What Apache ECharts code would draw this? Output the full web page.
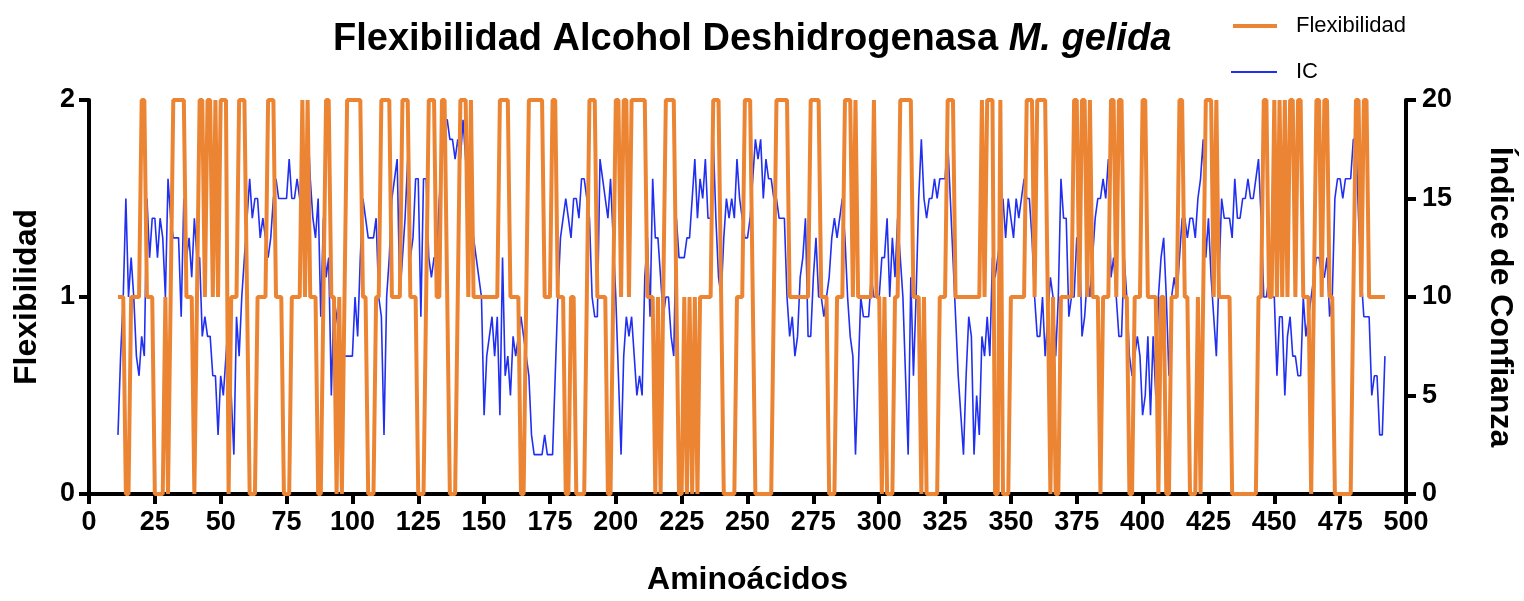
<!DOCTYPE html>
<html>
<head>
<meta charset="utf-8">
<script src="https://cdn.jsdelivr.net/npm/echarts@6/dist/echarts.min.js"></script>
<style>
  html, body { margin: 0; padding: 0; background: #fff; }
  #chart { width: 1524px; height: 601px; }
</style>
</head>
<body>
<div id="chart"></div>
<script>
// first residue plotted on the x axis
const primerAminoacido = 11;

// flexibility per residue (0, 1, 2) - left axis
const flexibilidad = [
  1,1,1,0,0,1,1,1,1,2,
  2,1,1,1,0,0,0,0,1,0,
  1,2,2,2,2,2,1,1,1,0,
  1,2,2,1,2,2,1,2,1,2,
  2,2,0,1,1,1,2,2,2,1,
  0,0,0,1,1,1,1,2,2,2,
  1,1,1,0,0,0,1,1,1,1,
  2,1,2,1,1,1,0,0,1,2,
  2,1,1,0,1,0,1,2,2,2,
  2,2,2,1,1,0,0,0,1,1,
  2,2,2,2,1,1,1,1,2,2,
  2,1,1,1,0,0,0,1,2,2,
  2,1,1,2,2,1,0,0,0,1,
  2,2,2,1,2,1,1,1,1,1,
  1,1,1,1,1,2,2,2,2,1,
  1,1,1,0,0,1,2,2,2,2,
  2,2,1,1,1,2,2,1,1,1,
  0,0,1,1,0,0,0,0,1,2,
  2,2,1,1,1,1,0,0,1,2,
  2,1,2,2,1,2,2,2,2,2,
  2,1,1,1,0,1,0,1,2,2,
  2,2,1,0,0,1,0,1,0,1,
  0,1,1,1,1,1,2,2,2,1,
  0,0,0,0,0,1,1,1,2,2,
  2,1,0,0,0,0,0,0,0,1,
  2,2,2,2,2,1,1,1,1,1,
  1,1,1,2,2,2,2,1,1,1,
  0,0,0,1,1,1,2,2,2,1,
  2,1,1,1,1,1,1,2,1,1,
  0,1,0,0,0,1,1,2,2,2,
  2,2,1,1,1,0,1,0,0,0,
  0,0,1,1,1,2,2,2,1,1,
  1,1,1,1,1,1,1,1,2,1,
  2,2,2,0,0,2,0,0,0,1,
  1,1,1,1,1,2,2,2,1,2,
  2,2,2,1,0,1,0,0,1,1,
  1,1,1,2,2,1,2,2,1,2,
  1,1,1,0,1,1,1,2,2,1,
  2,2,1,1,0,0,1,1,1,2,
  2,1,1,1,1,0,1,1,0,0,
  1,1,1,2,2,1,1,0,0,0,
  1,0,1,2,2,2,1,2,1,1,
  1,1,1,0,0,0,0,0,0,0,
  0,0,0,1,1,2,2,1,1,2,
  1,2,1,2,1,2,2,1,2,2,
  1,1,1,0,1,2,2,1,2,2,
  1,1,0,0,0,0,0,0,0,1,
  2,2,1,2,2,1,1,1,1,1,1,1
];

// confidence index per residue (0-20) - right axis
const ic = [
  3,7,10,15,10,12,10,7,6,8,
  7,15,12,14,14,12,14,13,10,16,
  14,13,13,13,9,15,12,13,11,14,
  12,12,8,9,8,8,6,6,3,6,
  5,7,9,5,2,9,7,10,12,14,
  16,14,15,15,13,14,13,12,13,15,
  16,15,15,15,15,17,15,15,16,15,
  13,14,19,16,14,13,15,9,14,11,
  12,5,10,9,8,7,7,7,7,7,
  10,8,12,15,14,13,13,13,14,10,
  9,3,10,12,15,16,17,10,12,14,
  17,12,13,16,16,9,16,16,12,11,
  12,12,15,17,19,19,18,18,17,18,
  17,19,17,15,14,13,12,11,10,4,
  7,8,9,7,9,4,12,6,7,5,
  8,7,8,9,8,7,6,3,2,2,
  2,2,3,2,2,2,6,10,13,14,
  15,14,13,15,15,14,16,16,15,14,
  10,9,9,17,16,15,14,16,13,10,
  6,2,7,9,8,9,7,5,6,5,
  11,13,9,16,13,13,11,9,10,10,
  8,7,14,12,12,12,13,13,15,17,
  14,16,15,17,14,14,18,14,11,10,
  13,15,14,15,14,17,15,14,13,13,
  14,16,18,17,18,15,17,16,16,15,
  15,14,14,14,10,8,9,7,8,11,
  12,14,8,8,11,13,10,10,9,10,
  11,13,14,13,14,15,13,10,8,7,
  2,6,10,9,9,9,11,10,10,10,
  12,12,14,10,13,11,14,12,10,6,
  2,11,6,10,15,18,15,14,15,15,
  16,15,16,16,16,18,15,12,9,6,
  4,2,6,9,8,2,5,3,8,7,
  9,7,12,11,12,13,15,13,15,14,
  13,15,14,15,16,15,15,13,10,8,
  8,10,7,9,11,10,7,10,16,14,
  14,9,10,10,13,13,8,9,11,10,
  12,14,15,15,16,15,17,11,12,10,
  8,8,12,10,7,6,7,8,7,4,
  5,8,4,8,5,10,12,13,10,6,
  10,11,10,12,14,14,13,14,14,13,
  15,16,18,12,14,11,9,7,11,15,
  14,14,14,13,16,14,14,15,15,16,
  15,15,16,17,14,10,10,11,10,10,
  6,9,9,5,8,9,7,7,6,6,
  10,8,9,10,11,12,12,11,11,12,
  9,10,15,16,16,15,16,16,16,18,
  18,14,11,9,9,9,5,6,6,3,3,7
];

const colorFlex = "#ec8533";
const colorIC = "#2130f0";
const fuente = "Liberation Sans, Arial, Helvetica, sans-serif";

let chart = echarts.init(document.getElementById("chart"));

const ejeNegro = { show: true, lineStyle: { color: "#000", width: 4 } };
const tickNegro = { show: true, length: 10, lineStyle: { color: "#000", width: 4 } };
const etiqueta = { color: "#000", fontSize: 27, fontWeight: "bold", fontFamily: fuente };

chart.setOption({
  animation: false,
  title: {
    text: "{a|Flexibilidad Alcohol Deshidrogenasa }{b|M. gelida}",
    left: 328,
    top: 16,
    textStyle: {
      rich: {
        a: { fontSize: 38, fontWeight: "bold", fontFamily: fuente, color: "#000" },
        b: { fontSize: 38, fontWeight: "bold", fontStyle: "italic", fontFamily: fuente, color: "#000" }
      }
    }
  },
  legend: [
    {
      data: ["Flexibilidad"],
      left: 1228,
      top: 10,
      icon: "rect",
      itemWidth: 44,
      itemHeight: 4,
      textStyle: { fontSize: 22, color: "#000", fontFamily: fuente, padding: [0, 0, 0, 14] }
    },
    {
      data: ["IC"],
      left: 1226,
      top: 56,
      icon: "rect",
      itemWidth: 46,
      itemHeight: 2,
      textStyle: { fontSize: 22, color: "#000", fontFamily: fuente, padding: [0, 0, 0, 14] }
    }
  ],
  grid: { left: 89, right: 116, top: 100, bottom: 98 },
  xAxis: {
    type: "value",
    min: 0,
    max: 500,
    interval: 25,
    name: "Aminoácidos",
    nameLocation: "middle",
    nameGap: 70,
    nameTextStyle: { fontSize: 32, fontWeight: "bold", color: "#000", fontFamily: fuente },
    axisLine: ejeNegro,
    axisTick: tickNegro,
    axisLabel: Object.assign({ margin: 15 }, etiqueta),
    splitLine: { show: false }
  },
  yAxis: [
    {
      type: "value",
      min: 0,
      max: 2,
      interval: 1,
      position: "left",
      name: "Flexibilidad",
      nameLocation: "middle",
      nameGap: 46,
      nameTextStyle: { fontSize: 32, fontWeight: "bold", color: "#000", fontFamily: fuente },
      axisLine: ejeNegro,
      axisTick: tickNegro,
      axisLabel: Object.assign({ margin: 14 }, etiqueta),
      splitLine: { show: false }
    },
    {
      type: "value",
      min: 0,
      max: 20,
      interval: 5,
      position: "right",
      name: "Índice de Confianza",
      nameLocation: "middle",
      nameRotate: -90,
      nameGap: 78,
      nameTextStyle: { fontSize: 32, fontWeight: "bold", color: "#000", fontFamily: fuente },
      axisLine: ejeNegro,
      axisTick: tickNegro,
      axisLabel: Object.assign({ margin: 16 }, etiqueta),
      splitLine: { show: false }
    }
  ],
  series: [
    {
      name: "Flexibilidad",
      type: "line",
      yAxisIndex: 0,
      z: 3,
      symbol: "none",
      color: colorFlex,
      lineStyle: { width: 4, color: colorFlex },
      data: flexibilidad.map((v, i) => [primerAminoacido + i, v])
    },
    {
      name: "IC",
      type: "line",
      yAxisIndex: 1,
      z: 2,
      symbol: "none",
      color: colorIC,
      lineStyle: { width: 1.6, color: colorIC },
      data: ic.map((v, i) => [primerAminoacido + i, v])
    }
  ]
});
</script>
</body>
</html>
